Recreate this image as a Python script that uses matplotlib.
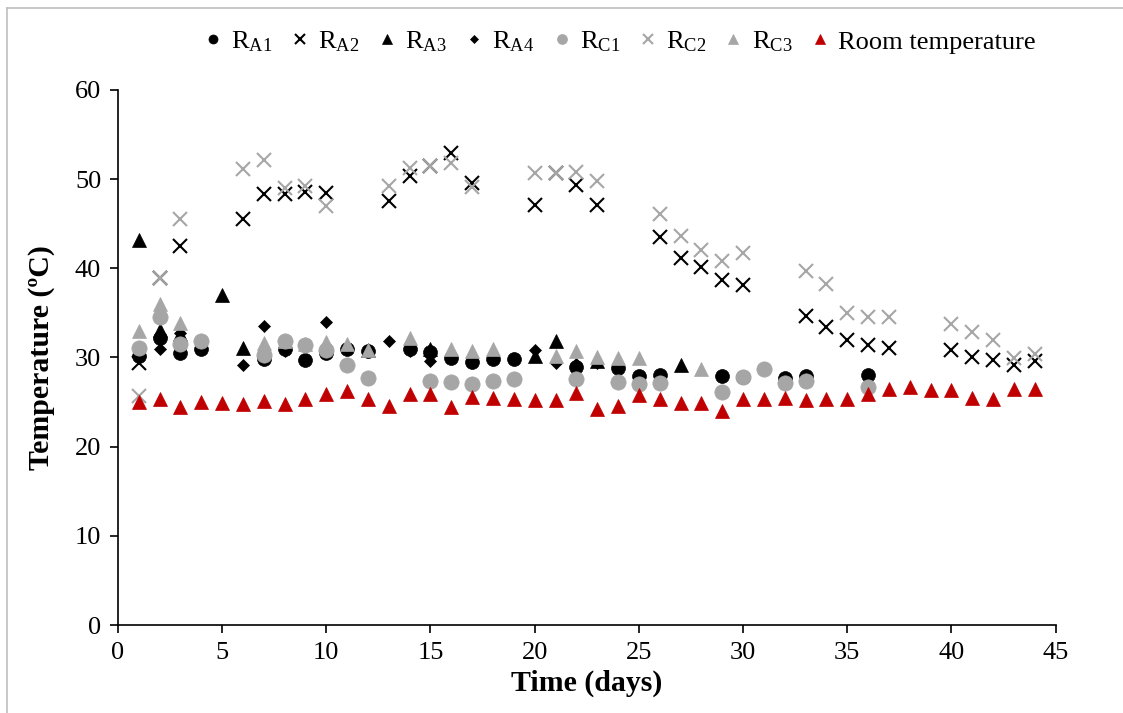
import matplotlib.pyplot as plt
import matplotlib as mp
from matplotlib.lines import Line2D

fsize = 19
mp.rc('font', family='Liberation Serif', size=fsize)
mp.rc('mathtext', fontset='custom', rm='Liberation Serif', it='Liberation Serif:italic')
mp.rc('xtick', labelsize=fsize)
mp.rc('ytick', labelsize=fsize)

# ---------------- data ----------------
# R_A1 (black circles)
ra1_day = [1, 2, 3, 4, 7, 8, 9, 10, 11, 12, 14, 15, 16, 17, 18, 19, 22, 24, 25, 26, 29, 30, 32, 33, 36]
ra1_temp = [30.2, 32.2, 30.5, 31.0, 29.8, 31.0, 29.7, 30.5, 31.0, 30.7, 30.9, 30.6, 29.9, 29.5, 29.8,
            29.8, 28.9, 28.8, 27.9, 28.0, 27.9, 27.8, 27.7, 27.9, 28.0]

# R_A2 (black crosses)
ra2_day = [1, 2, 3, 6, 7, 8, 9, 10, 13, 14, 15, 16, 17, 20, 21, 22, 23, 26, 27, 28, 29, 30,
           33, 34, 35, 36, 37, 40, 41, 42, 43, 44]
ra2_temp = [29.4, 38.9, 42.5, 45.5, 48.3, 48.3, 48.6, 48.5, 47.5, 50.4, 51.5, 52.9, 49.6, 47.1, 50.7,
            49.4, 47.1, 43.5, 41.2, 40.1, 38.7, 38.1, 34.6, 33.4, 32.0, 31.4, 31.1, 30.8, 30.0, 29.7,
            29.2, 29.6]

# R_A3 (black triangles)
ra3_day = [1, 2, 3, 5, 6, 12, 15, 20, 21, 23, 27]
ra3_temp = [43.2, 33.1, 32.6, 37.0, 31.1, 30.8, 30.9, 30.2, 31.8, 29.6, 29.2]

# R_A4 (black diamonds)
ra4_day = [1, 2, 3, 6, 7, 8, 10, 13, 14, 15, 17, 20, 21, 22, 23, 24]
ra4_temp = [30.0, 30.9, 32.7, 29.2, 33.5, 30.7, 34.0, 31.9, 30.7, 29.6, 29.6, 30.8, 29.4, 29.3, 29.4, 28.8]

# R_C1 (grey circles)
rc1_day = [1, 2, 3, 4, 7, 8, 9, 10, 11, 12, 15, 16, 17, 18, 19, 22, 24, 25, 26, 29, 30, 31, 32, 33, 36]
rc1_temp = [31.1, 34.5, 31.5, 31.9, 30.3, 31.8, 31.4, 30.8, 29.2, 27.7, 27.4, 27.3, 27.0, 27.4, 27.6,
            27.6, 27.3, 27.0, 27.1, 26.1, 27.8, 28.7, 27.1, 27.4, 26.7]

# R_C2 (grey crosses)
rc2_day = ra2_day
rc2_temp = [25.7, 38.9, 45.5, 51.1, 52.2, 49.0, 49.2, 47.0, 49.2, 51.3, 51.5, 51.8, 49.1, 50.7, 50.7,
            50.8, 49.8, 46.1, 43.6, 42.1, 40.8, 41.7, 39.7, 38.2, 35.0, 34.5, 34.5, 33.8, 32.9, 32.0,
            29.9, 30.4]

# R_C3 (grey triangles)
rc3_day = [1, 2, 3, 7, 8, 9, 10, 11, 12, 14, 16, 17, 18, 21, 22, 23, 24, 25, 28]
rc3_temp = [33.0, 36.0, 33.9, 31.6, 31.8, 31.5, 31.7, 31.5, 30.8, 32.2, 30.9, 30.7, 30.9, 30.2, 30.7,
            30.1, 29.9, 29.9, 28.7]

# Room temperature (red triangles)
room_day = list(range(1, 45))
room_temp = [25.0, 25.3, 24.5, 25.0, 24.9, 24.8, 25.1, 24.8, 25.3, 25.9, 26.2, 25.4, 24.6, 25.9, 25.9,
             24.4, 25.6, 25.5, 25.3, 25.2, 25.2, 26.0, 24.2, 24.6, 25.8, 25.3, 24.9, 24.9, 24.0, 25.3,
             25.3, 25.5, 25.2, 25.3, 25.3, 25.9, 26.5, 26.7, 26.4, 26.4, 25.5, 25.4, 26.5, 26.5]

grey = "#A6A6A6"
red = "#C00000"

series = [
    (ra1_day, ra1_temp, "o", "black", 10, r"R$_{\mathrm{A1}}$"),
    (ra2_day, ra2_temp, "x", "black", 10, r"R$_{\mathrm{A2}}$"),
    (ra3_day, ra3_temp, "^", "black", 10, r"R$_{\mathrm{A3}}$"),
    (ra4_day, ra4_temp, "D", "black", 6.5, r"R$_{\mathrm{A4}}$"),
    (rc1_day, rc1_temp, "o", grey, 11, r"R$_{\mathrm{C1}}$"),
    (rc2_day, rc2_temp, "x", grey, 10, r"R$_{\mathrm{C2}}$"),
    (rc3_day, rc3_temp, "^", grey, 10, r"R$_{\mathrm{C3}}$"),
    (room_day, room_temp, "^", red, 10, "Room temperature"),
]

fig = plt.figure(figsize=(11.23, 7.13), dpi=100)
ax = fig.add_axes([0.105, 0.1234, 0.835, 0.7504])

for day, temp, mk, col, ms, lab in series:
    ax.plot(day, temp, linestyle="none", marker=mk, color=col, markersize=ms,
            markeredgewidth=1.5 if mk == "x" else 0.5, label=lab)

# Some cosmetics for the plots
ax.set_xlim(0, 45)
ax.set_ylim(0, 60)
ax.set_xticks(range(0, 46, 5))
ax.set_yticks(range(0, 61, 10))
ax.spines["top"].set_visible(False)
ax.spines["right"].set_visible(False)
for s in ("left", "bottom"):
    ax.spines[s].set_linewidth(1.2)
ax.tick_params(direction="out", length=6, width=1.2, pad=6)
ax.set_xlabel("Time (days)", fontsize=21.5, fontweight="bold", labelpad=4)
ax.set_ylabel("Temperature (ºC)", fontsize=21.5, fontweight="bold", labelpad=14)

ax.legend(loc="center", bbox_to_anchor=(0.535, 1.09), ncol=8, frameon=False,
          fontsize=fsize, markerscale=0.65, handlelength=0.7, handletextpad=0.35,
          columnspacing=0.68, borderaxespad=0, borderpad=0)

# grey chart border (left and top edge visible)
fig.add_artist(Line2D([7 / 1123, 7 / 1123], [0, 1 - 8 / 713], color="#BFBFBF", lw=1.2))
fig.add_artist(Line2D([7 / 1123, 1], [1 - 8 / 713, 1 - 8 / 713], color="#BFBFBF", lw=1.2))

plt.savefig("out.png", dpi=100)
